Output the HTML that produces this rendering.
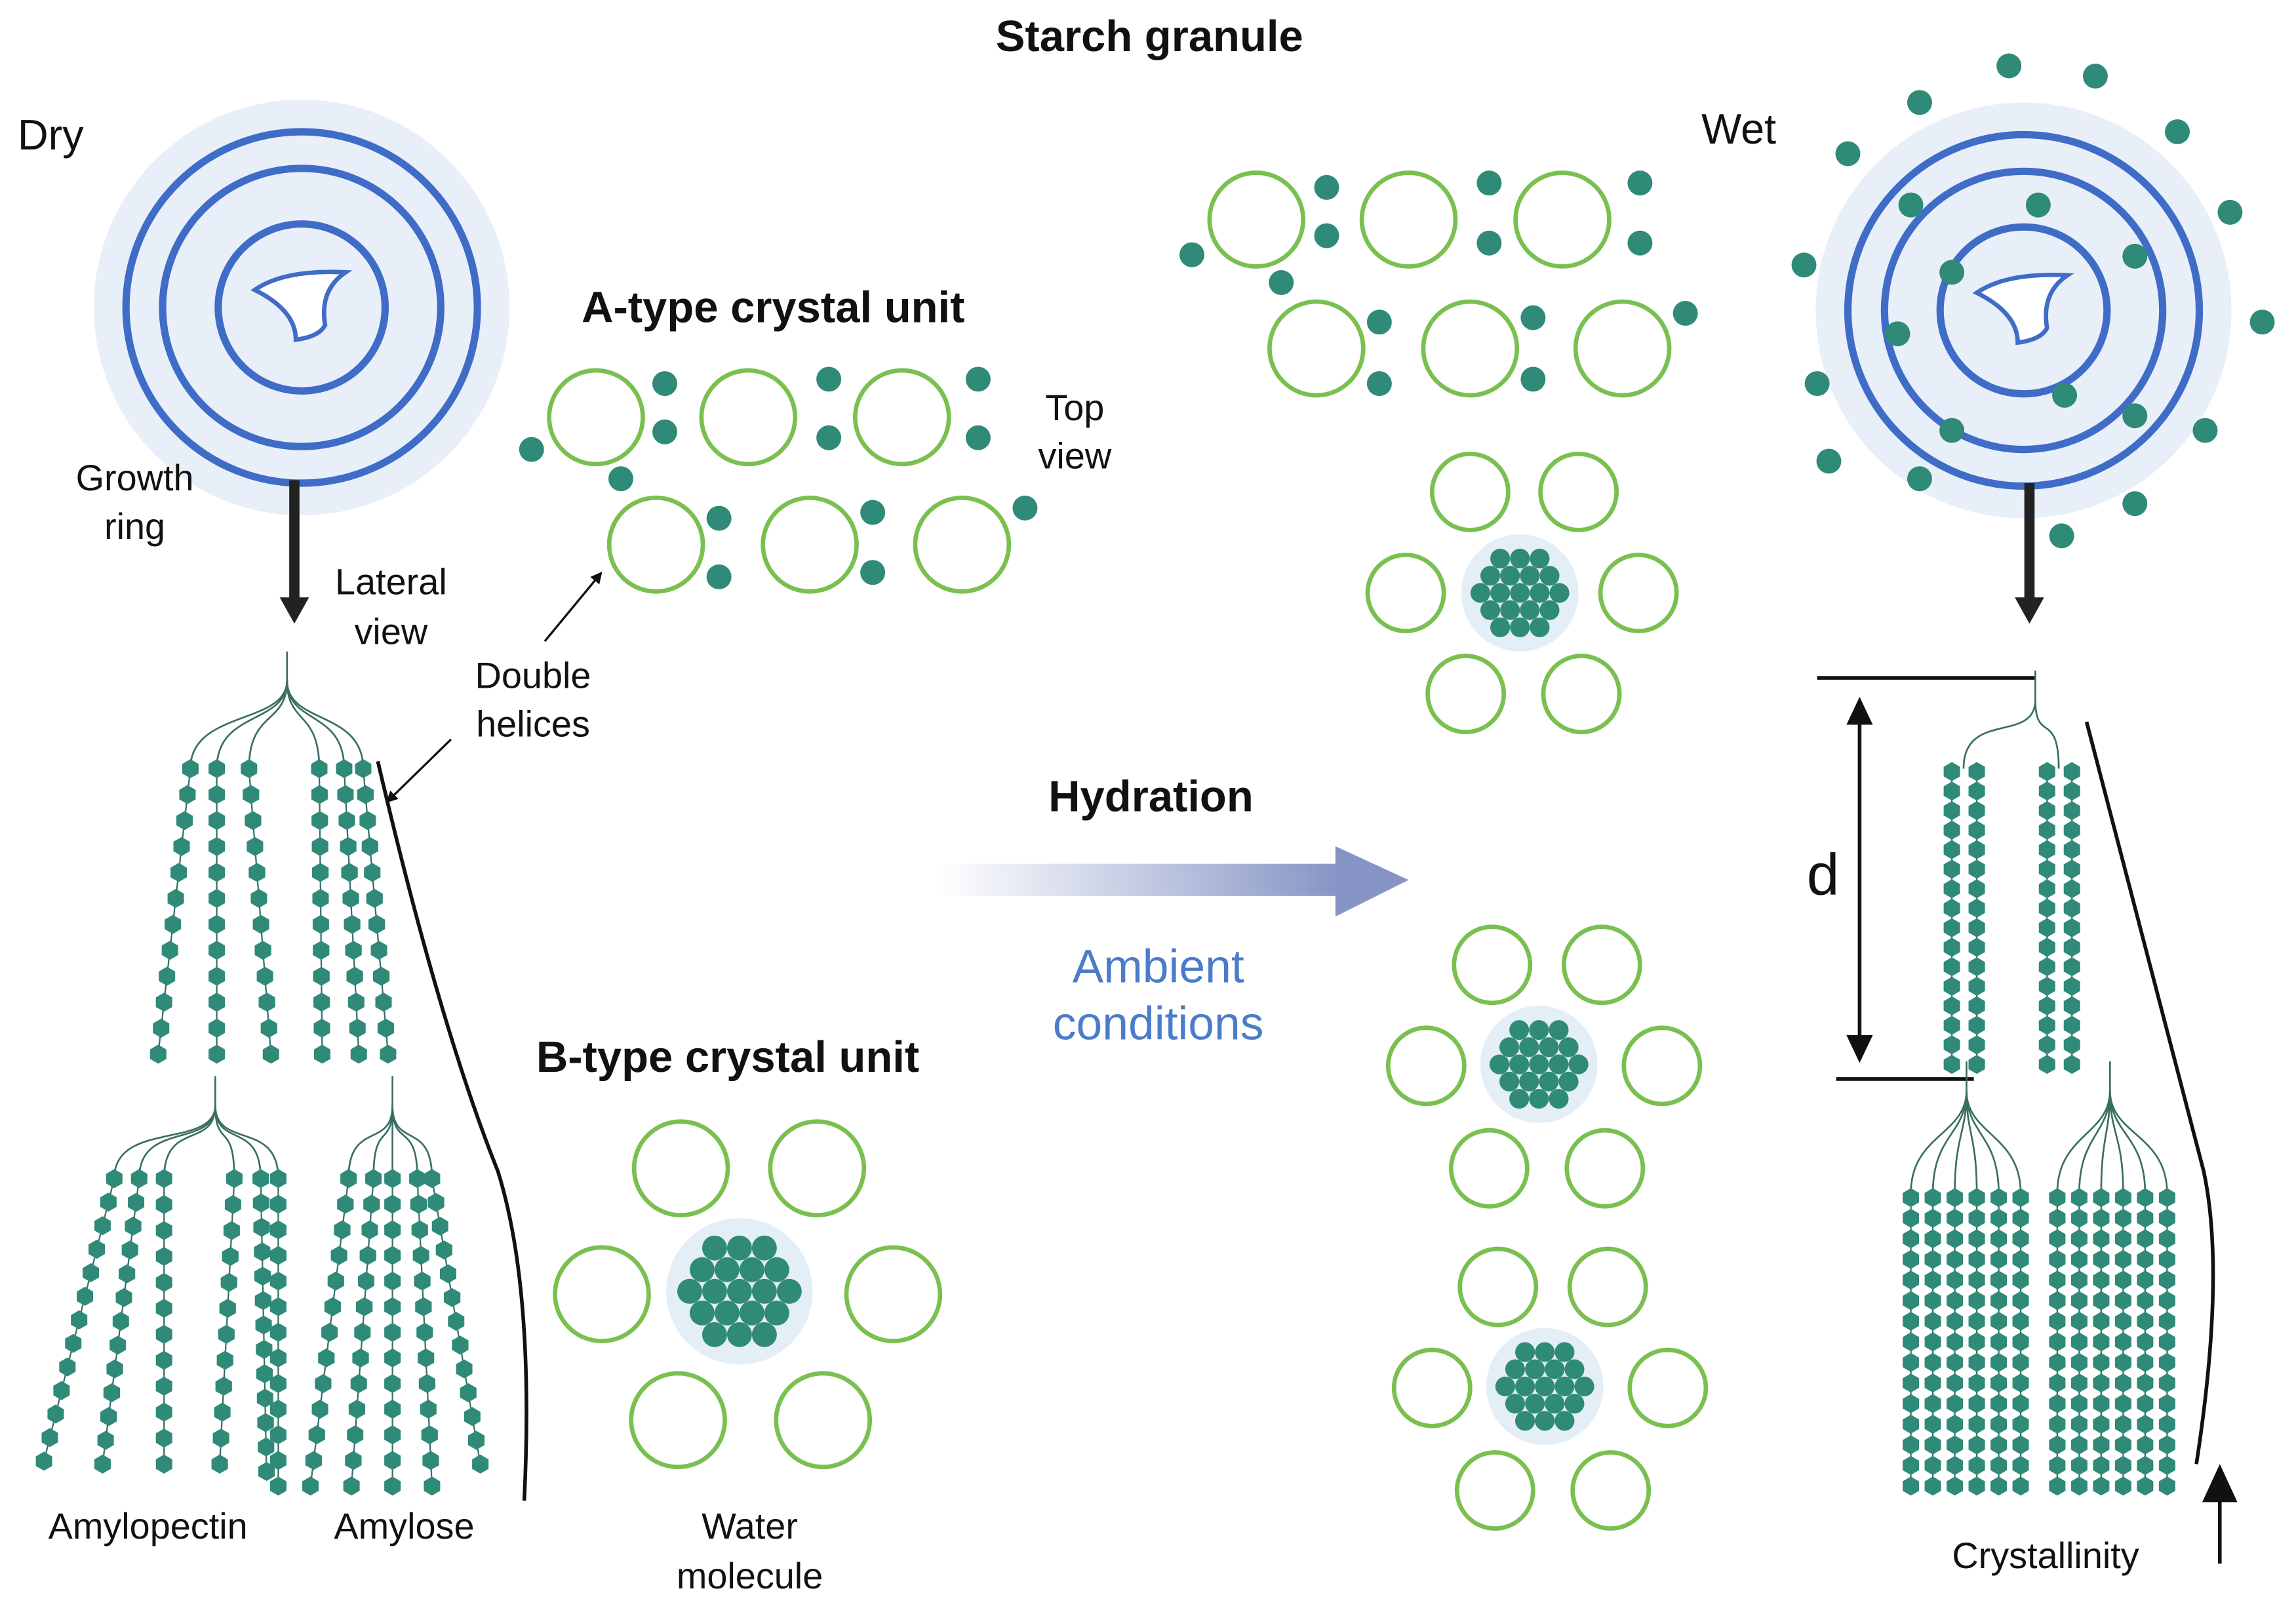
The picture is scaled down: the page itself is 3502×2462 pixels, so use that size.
<!DOCTYPE html>
<html><head><meta charset="utf-8"><style>
html,body{margin:0;padding:0;background:#fff;}
svg{display:block;}
text{font-family:"Liberation Sans",sans-serif;fill:#111;}
</style></head><body>
<svg id="s" width="3502" height="2462" viewBox="0 0 1568 1102.4" xmlns="http://www.w3.org/2000/svg">
<defs>
<linearGradient id="g" x1="0" x2="1"><stop offset="0" stop-color="#8e9cc9" stop-opacity="0"/><stop offset="1" stop-color="#8594c4"/></linearGradient>
<marker id="ah" markerWidth="8" markerHeight="8" refX="6" refY="4" orient="auto" markerUnits="userSpaceOnUse"><path d="M0,0 L8,4 L0,8z" fill="#111"/></marker>
</defs>
<text x="785" y="35" font-size="30" font-weight="bold" text-anchor="middle">Starch granule</text>
<text x="12" y="102" font-size="29">Dry</text>
<text x="1162" y="98" font-size="29">Wet</text>
<g id="dry"></g>
<text x="92" y="335" font-size="25" text-anchor="middle">Growth</text>
<text x="92" y="368" font-size="25" text-anchor="middle">ring</text>
<text x="267" y="406" font-size="25" text-anchor="middle">Lateral</text>
<text x="267" y="440" font-size="25" text-anchor="middle">view</text>
<line x1="201" y1="328" x2="201" y2="410" stroke="#222" stroke-width="7"/>
<path d="M191,408 L211,408 L201,426z" fill="#222"/>
<line x1="1386" y1="330" x2="1386" y2="410" stroke="#222" stroke-width="7"/>
<path d="M1376,408 L1396,408 L1386,426z" fill="#222"/>
<text x="528" y="220" font-size="30" font-weight="bold" text-anchor="middle">A-type crystal unit</text>
<text x="734" y="287" font-size="25" text-anchor="middle">Top</text>
<text x="734" y="320" font-size="25" text-anchor="middle">view</text>
<text x="364" y="470" font-size="25" text-anchor="middle">Double</text>
<text x="364" y="503" font-size="25" text-anchor="middle">helices</text>
<line x1="372" y1="438" x2="410" y2="392" stroke="#111" stroke-width="1.5" marker-end="url(#ah)"/>
<line x1="308" y1="505" x2="265" y2="547" stroke="#111" stroke-width="1.5" marker-end="url(#ah)"/>
<text x="497" y="732" font-size="30" font-weight="bold" text-anchor="middle">B-type crystal unit</text>
<text x="512" y="1051" font-size="25" text-anchor="middle">Water</text>
<text x="512" y="1085" font-size="25" text-anchor="middle">molecule</text>
<text x="101" y="1051" font-size="25" text-anchor="middle">Amylopectin</text>
<text x="276" y="1051" font-size="25" text-anchor="middle">Amylose</text>
<text x="786" y="554" font-size="30" font-weight="bold" text-anchor="middle">Hydration</text>
<rect x="640" y="590" width="275" height="22" fill="url(#g)"/>
<path d="M912,578 L962,601 L912,626z" fill="#8594c4"/>
<text x="791" y="671" font-size="32" text-anchor="middle" style="fill:#4a7cc9">Ambient</text>
<text x="791" y="710" font-size="32" text-anchor="middle" style="fill:#4a7cc9">conditions</text>
<text x="1245" y="611" font-size="40" text-anchor="middle">d</text>
<text x="1397" y="1071" font-size="25" text-anchor="middle">Crystallinity</text>
<line x1="1241" y1="463" x2="1390" y2="463" stroke="#111" stroke-width="2.5"/>
<line x1="1254" y1="737" x2="1348" y2="737" stroke="#111" stroke-width="2.5"/>
<line x1="1270" y1="480" x2="1270" y2="722" stroke="#111" stroke-width="2.5"/>
<path d="M1261,495 L1270,476 L1279,495z M1261,707 L1270,726 L1279,707z" fill="#111"/>
<line x1="1516" y1="1068" x2="1516" y2="1020" stroke="#111" stroke-width="2.5"/>
<path d="M1504,1026 L1516,1000 L1528,1026z" fill="#111"/>
<path d="M1425,493 Q1495,760 1505,800 Q1520,870 1500,1000" fill="none" stroke="#111" stroke-width="2.5"/>
<path d="M258,520 Q300,700 340,800 Q365,880 358,1025" fill="none" stroke="#111" stroke-width="2.5"/>
<g id="dyn"></g>
</svg>
<script>
var NS="http://www.w3.org/2000/svg",D=document.getElementById("dyn"),DR=document.getElementById("dry");
function el(t,a,p){var e=document.createElementNS(NS,t);for(var k in a)e.setAttribute(k,a[k]);(p||D).appendChild(e);return e;}
var TEAL="#2f8a78",GR="#79c050";
function ring(x,y,r){el("circle",{cx:x,cy:y,r:r,fill:"#fff",stroke:GR,"stroke-width":3});}
function dot(x,y,r){el("circle",{cx:x,cy:y,r:r||8.5,fill:TEAL});}
function granule(cx,cy){
 el("circle",{cx:cx,cy:cy,r:142,fill:"#e8eff9"},DR);
 [120,95,57].forEach(function(r){el("circle",{cx:cx,cy:cy,r:r,fill:"none",stroke:"#3f6cc6","stroke-width":5},DR);});
 el("path",{d:"M"+(cx-32)+","+(cy-12)+" q20,-14 62,-12 q-18,12 -14,36 q-4,8 -20,10 q0,-20 -28,-34z",fill:"#fff",stroke:"#3f6cc6","stroke-width":3},DR);
}
granule(206,210);granule(1382,212);
function atype(xs1,y1,xs2,y2,dots){xs1.forEach(function(x){ring(x,y1,32)});xs2.forEach(function(x){ring(x,y2,32)});dots.forEach(function(d){dot(d[0],d[1])});}
atype([407,511,616],285,[448,553,657],372,[[454,262],[454,295],[566,259],[566,299],[668,259],[668,299],[363,307],[424,327],[491,354],[491,394],[596,350],[596,391],[700,347]]);
atype([858,962,1067],150,[899,1004,1108],238,[[906,128],[906,161],[1017,125],[1017,166],[1120,125],[1120,166],[814,174],[875,193],[942,220],[942,262],[1047,217],[1047,259],[1151,214]]);
function btype(cx,cy,pos,rr,cr,s){pos.forEach(function(p){ring(cx+p[0],cy+p[1],rr)});
 el("circle",{cx:cx,cy:cy,r:cr+6,fill:"#e4eef6"});
 for(var j=-5;j<=5;j++)for(var i=-6;i<=6;i++){var x=i*s+(j%2?s/2:0),y=j*s*0.87;if(x*x+y*y<=cr*cr)dot(cx+x,cy+y,s*0.5);}}
btype(505,882,[[-40,-84],[53,-84],[-94,2],[105,2],[-42,88],[57,88]],32,44,17);
btype(1038,405,[[-34,-69],[40,-69],[-78,0],[81,0],[-37,69],[42,69]],26,34,13.5);
btype(1051,727,[[-32,-68],[43,-68],[-77,1],[84,1],[-34,71],[45,71]],26,34,13.5);
btype(1055,947,[[-32,-68],[43,-68],[-77,1],[84,1],[-34,71],[45,71]],26,34,13.5);
[[1372,45],[1431,52],[1311,70],[1487,90],[1262,105],[1523,145],[1232,181],[1545,220],[1241,262],[1506,294],[1249,315],[1311,327],[1458,344],[1408,366],[1305,140],[1392,140],[1333,186],[1458,175],[1296,228],[1410,270],[1333,294],[1458,284]].forEach(function(d){dot(d[0],d[1],8.5)});
function hex(x,y,r){var p=[];for(var k=0;k<6;k++){var a=Math.PI/3*k+Math.PI/6;p.push((x+r*Math.cos(a)).toFixed(1)+","+(y+r*Math.sin(a)).toFixed(1));}el("polygon",{points:p.join(" "),fill:TEAL});}
function chain(x0,y0,x1,y1,step){var L=Math.hypot(x1-x0,y1-y0),n=Math.round(L/step);el("line",{x1:x0,y1:y0,x2:x1,y2:y1,stroke:"#3a6e62","stroke-width":1});for(var i=0;i<=n;i++)hex(x0+(x1-x0)*i/n,y0+(y1-y0)*i/n,6.5);}
function tree(rx,ry,tops){el("line",{x1:rx,y1:ry-20,x2:rx,y2:ry,stroke:"#3a6e62","stroke-width":1.2});tops.forEach(function(t){el("path",{d:"M"+rx+","+ry+" C"+rx+","+(ry+30)+" "+t[0]+","+(t[1]-40)+" "+t[0]+","+t[1],fill:"none",stroke:"#3a6e62","stroke-width":1.2});});}
var c1=[[130,525,108,720],[148,525,148,720],[170,525,185,720],[218,525,220,720],[235,525,245,720],[248,525,265,720]];
tree(196,465,c1.map(function(c){return[c[0],c[1]]}));c1.forEach(function(c){chain(c[0],c[1],c[2],c[3],18)});
var c2=[[78,805,30,998],[95,805,70,1000],[112,805,112,1000],[160,805,150,1000],[178,805,182,1005],[190,805,190,1015]];
tree(147,755,c2.map(function(c){return[c[0],c[1]]}));c2.forEach(function(c){chain(c[0],c[1],c[2],c[3],17)});
var c3=[[238,805,212,1015],[255,805,240,1015],[268,805,268,1015],[285,805,295,1015],[295,805,328,1000]];
tree(268,755,c3.map(function(c){return[c[0],c[1]]}));c3.forEach(function(c){chain(c[0],c[1],c[2],c[3],17)});
var c4=[[1333,527,1333,727],[1350,527,1350,727],[1398,527,1398,727],[1415,527,1415,727]];
tree(1390,478,[[1341,525],[1406,525]]);c4.forEach(function(c){chain(c[0],c[1],c[2],c[3],13.5)});
var xs=[],xs2=[];for(var i=0;i<6;i++){xs.push(1305+i*15);xs2.push(1405+i*15);}
tree(1343,745,xs.map(function(x){return[x,815]}));tree(1441,745,xs2.map(function(x){return[x,815]}));
xs.concat(xs2).forEach(function(x){chain(x,818,x,1015,14)});
</script>
</body></html>
